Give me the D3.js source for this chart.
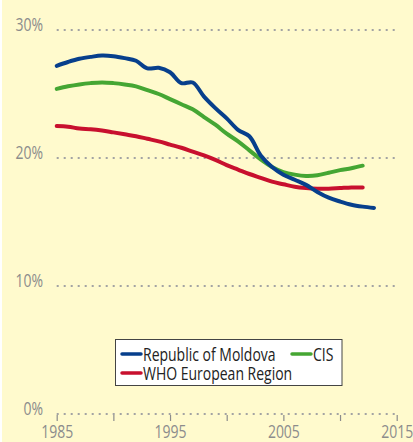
<!DOCTYPE html>
<html><head><meta charset="utf-8">
<script src="https://cdn.jsdelivr.net/npm/d3@7"></script>
<style>
html,body{margin:0;padding:0;background:#fff;}
svg{display:block;}
text{font-family:"Open Sans","Noto Sans",sans-serif;}
</style></head><body>
<svg id="chart" width="413" height="442"></svg>
<script>
const moldovaYears = d3.range(1985, 2014);
const moldova = [27.2,27.5,27.75,27.9,28.0,27.95,27.8,27.6,27.0,27.05,26.7,25.85,25.9,24.8,23.9,23.1,22.2,21.7,20.2,19.3,18.7,18.3,17.9,17.35,16.9,16.6,16.35,16.2,16.1];
const cisYears = d3.range(1985, 2013);
const cis = [25.4,25.6,25.75,25.85,25.9,25.85,25.75,25.6,25.3,25.0,24.6,24.2,23.8,23.2,22.6,21.9,21.3,20.6,19.9,19.3,18.9,18.7,18.6,18.65,18.85,19.05,19.2,19.4];
const whoYears = d3.range(1985, 2013);
const who = [22.5,22.45,22.3,22.25,22.15,22.0,21.85,21.7,21.5,21.3,21.05,20.8,20.5,20.2,19.85,19.45,19.1,18.75,18.45,18.15,17.95,17.75,17.65,17.6,17.6,17.65,17.7,17.7];
const xTicks = [1985,1990,1995,2000,2005,2010,2015];
const xTickLabels = ["1985","","1995","","2005","","2015"];
const yTicks = [0,10,20,30];
const seriesNames = ["Republic of Moldova","CIS","WHO European Region"];
const seriesColors = ["#073f8c","#45a633","#c8102e"];

const FS = 17.5, SX = 0.8;
const svg = d3.select("#chart");
svg.append("rect").attr("x",2).attr("y",0).attr("width",411).attr("height",442).attr("fill","#fffacd");

const x = d3.scaleLinear().domain([1985,2015]).range([56.7,396.7]);
const y = d3.scaleLinear().domain([0,30]).range([414,30]);

// gridlines
svg.append("g").selectAll("line").data(yTicks).join("line")
  .attr("x1",x(1985)).attr("x2",x(2015)+1)
  .attr("y1",d=>y(d)).attr("y2",d=>y(d))
  .attr("stroke","#a3a3a3").attr("stroke-width",2).attr("stroke-dasharray","2,5");

// y labels
svg.append("g").selectAll("text").data(yTicks).join("text")
  .attr("transform",d=>`translate(43,${y(d)+1}) scale(${SX},1)`)
  .attr("text-anchor","end").attr("font-size",FS).attr("fill","#8c8c8c")
  .text(d=>d+"%");

// x axis ticks & labels
const xAxis = d3.axisBottom(x).tickValues(xTicks).tickSize(6).tickFormat((d,i)=>xTickLabels[i]);
const gx = svg.append("g").attr("transform",`translate(0,${y(0)+1})`).call(xAxis);
gx.select(".domain").remove();
gx.selectAll(".tick line").attr("stroke","#8c8c8c").attr("stroke-width",1.2);
gx.selectAll(".tick text").attr("font-size",FS).attr("fill","#8c8c8c")
  .attr("font-family",'"Open Sans","Noto Sans",sans-serif')
  .attr("dy",null).attr("y",0)
  .attr("transform",`translate(0,23) scale(${SX},1)`);

// lines
const line = d3.line().x(d=>x(d[0])).y(d=>y(d[1])).curve(d3.curveCatmullRom.alpha(0.5));
const data = [
  d3.zip(moldovaYears, moldova),
  d3.zip(cisYears, cis),
  d3.zip(whoYears, who)
];
[2,1,0].forEach(i=>{
  svg.append("path").datum(data[i]).attr("d",line)
    .attr("fill","none").attr("stroke",seriesColors[i]).attr("stroke-width",4)
    .attr("stroke-linecap","round").attr("stroke-linejoin","round");
});

// legend
const lg = svg.append("g");
lg.append("rect").attr("x",115.5).attr("y",339.5).attr("width",226.5).attr("height",46)
  .attr("fill","#fff").attr("stroke","#444").attr("stroke-width",1);
const legItems = [
  {i:0, sx:122, ty:361, sy:354},
  {i:1, sx:292, ty:361, sy:354},
  {i:2, sx:122, ty:380, sy:373}
];
legItems.forEach(it=>{
  lg.append("line").attr("x1",it.sx).attr("x2",it.sx+19).attr("y1",it.sy).attr("y2",it.sy)
    .attr("stroke",seriesColors[it.i]).attr("stroke-width",3.5).attr("stroke-linecap","round");
  lg.append("text").attr("transform",`translate(${it.sx+21},${it.ty}) scale(${SX},1)`)
    .attr("font-size",FS).attr("fill","#222")
    .text(seriesNames[it.i]);
});
</script>
</body></html>
